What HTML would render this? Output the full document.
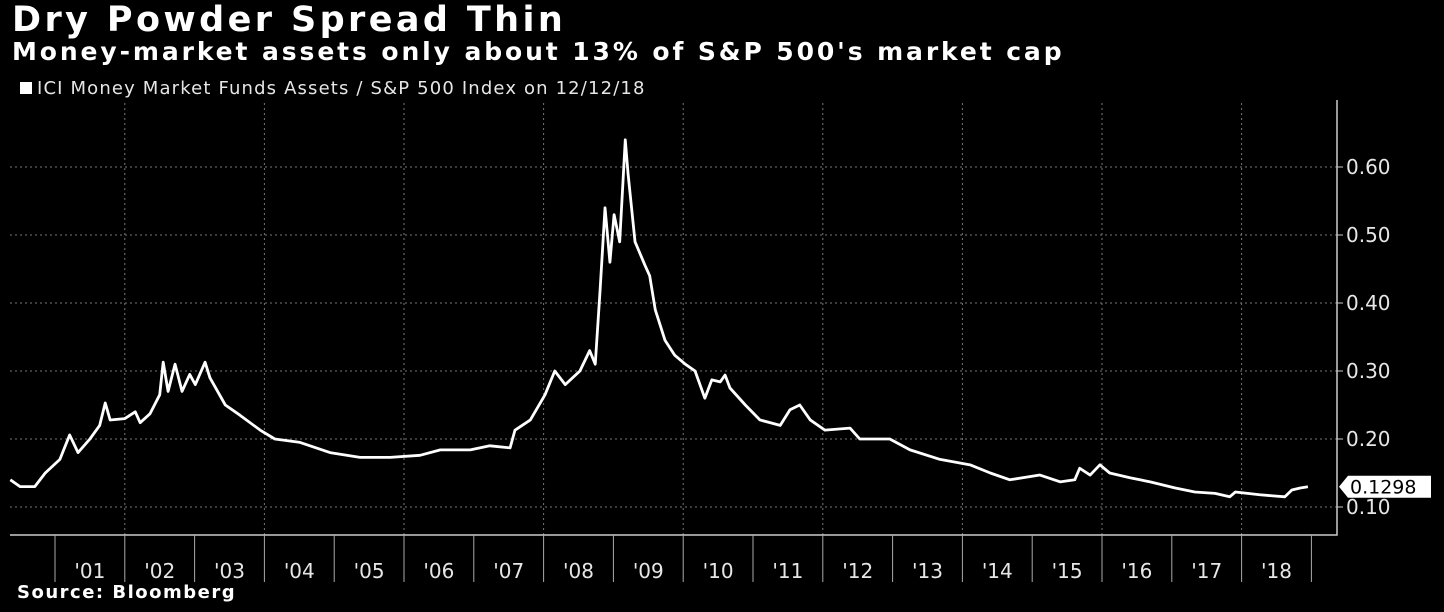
<!DOCTYPE html>
<html><head><meta charset="utf-8"><style>
body{margin:0;background:#000;width:1444px;height:612px;overflow:hidden;font-family:"DejaVu Sans","Liberation Sans",sans-serif;color:#fff}
.t{position:absolute;left:12px;top:0px;font-size:35px;font-weight:bold;letter-spacing:3.4px}
.s{position:absolute;left:12px;top:37px;font-size:25px;font-weight:bold;letter-spacing:2.9px}
.l{position:absolute;left:20px;top:78px;font-size:18px;color:#e6e6e6;letter-spacing:1.15px}
.l span{display:inline-block;width:12px;height:12px;background:#fff;margin-right:5px}
.src{position:absolute;left:17px;top:582px;font-size:18px;font-weight:bold;letter-spacing:1.5px}
svg{position:absolute;left:0;top:0}
</style></head><body>
<div class="t">Dry Powder Spread Thin</div>
<div class="s">Money-market assets only about 13% of S&amp;P 500's market cap</div>
<div class="l"><span></span>ICI Money Market Funds Assets / S&amp;P 500 Index on 12/12/18</div>
<div class="src">Source: Bloomberg</div>
<svg id="c" width="1444" height="612"></svg>
<script>
const dates=[2000.36,2000.50,2000.71,2000.86,2001.07,2001.21,2001.33,2001.50,2001.64,2001.72,2001.79,2002.00,2002.15,2002.22,2002.36,2002.50,2002.55,2002.62,2002.72,2002.82,2002.93,2003.01,2003.15,2003.22,2003.44,2003.65,2003.94,2004.15,2004.51,2004.94,2005.37,2005.80,2006.23,2006.52,2006.95,2007.23,2007.52,2007.59,2007.81,2008.02,2008.16,2008.31,2008.52,2008.66,2008.74,2008.81,2008.88,2008.95,2009.01,2009.09,2009.17,2009.21,2009.31,2009.45,2009.52,2009.60,2009.74,2009.88,2010.03,2010.17,2010.31,2010.41,2010.53,2010.60,2010.67,2010.89,2011.10,2011.39,2011.53,2011.67,2011.82,2012.03,2012.39,2012.53,2012.96,2013.25,2013.68,2014.11,2014.40,2014.68,2015.11,2015.40,2015.61,2015.68,2015.83,2015.97,2016.11,2016.40,2016.69,2017.05,2017.33,2017.62,2017.83,2017.91,2018.26,2018.62,2018.72,2018.84,2018.95];
const values=[0.14,0.13,0.13,0.15,0.17,0.206,0.18,0.2,0.22,0.253,0.228,0.23,0.24,0.224,0.237,0.265,0.313,0.27,0.31,0.27,0.295,0.28,0.313,0.29,0.25,0.235,0.213,0.2,0.195,0.18,0.173,0.173,0.176,0.184,0.184,0.19,0.187,0.213,0.228,0.265,0.3,0.28,0.3,0.33,0.31,0.42,0.54,0.46,0.53,0.49,0.64,0.59,0.49,0.456,0.44,0.39,0.345,0.323,0.31,0.3,0.26,0.287,0.284,0.294,0.275,0.25,0.228,0.22,0.243,0.25,0.228,0.213,0.216,0.2,0.2,0.184,0.17,0.162,0.15,0.14,0.147,0.137,0.14,0.157,0.147,0.162,0.15,0.143,0.137,0.128,0.122,0.12,0.115,0.122,0.118,0.115,0.125,0.128,0.1298];
const yTicks=[0.10,0.20,0.30,0.40,0.50,0.60];
const years=['01','02','03','04','05','06','07','08','09','10','11','12','13','14','15','16','17','18'];
const lastLabel='0.1298';
const X=t=>55+(t-2001)*69.8;
const Y=v=>507-(v-0.1)*680;
const svg=document.getElementById('c');const NS='http://www.w3.org/2000/svg';
function mk(tag,a){const e=document.createElementNS(NS,tag);for(const k in a)e.setAttribute(k,a[k]);svg.appendChild(e);return e;}
yTicks.forEach(v=>{
 const g=mk('line',{x1:10,x2:1337,y1:Y(v),y2:Y(v),stroke:'#777','stroke-dasharray':'2,3','stroke-width':1});
 
 
 const tk=mk('line',{x1:1337,x2:1343,y1:Y(v),y2:Y(v),stroke:'#ccc'});
 
 
 const t=mk('text',{x:1346,y:Y(v)+7,fill:'#e6e6e6','font-size':20,'font-family':'DejaVu Sans,sans-serif'});
 t.textContent=v.toFixed(2);
 
 
});
for(let yr=2002;yr<=2018;yr+=2){
 const g=mk('line',{x1:X(yr),x2:X(yr),y1:103,y2:535,stroke:'#777','stroke-dasharray':'2,3'});
 
 
}
const ax=mk('path',{d:'M10 535H1337V100',fill:'none',stroke:'#ccc','stroke-width':1.5});


years.forEach((y,i)=>{
 const x0=X(2001+i);
 const s=mk('line',{x1:x0,x2:x0,y1:535,y2:582,stroke:'#aaa'});
 
 
 const t=mk('text',{x:x0+34.9,y:578,fill:'#e6e6e6','font-size':20,'text-anchor':'middle','font-family':'DejaVu Sans,sans-serif'});
 t.textContent="'"+y;
 
 
});
const ex=X(2019);
const es=mk('line',{x1:ex,x2:ex,y1:535,y2:582,stroke:'#aaa'});


const line=mk('polyline',{points:dates.map((d,i)=>X(d)+','+Y(values[i])).join(' '),fill:'none',stroke:'#fff','stroke-width':2.8,'stroke-linejoin':'round'});


const ly=Y(values[values.length-1]);
const box=mk('path',{d:`M1339 ${ly} L1348 ${ly-11} H1431 V${ly+11} H1348 Z`,fill:'#fff'});


const lt=mk('text',{x:1350,y:ly+7,fill:'#000','font-size':19,'font-family':'DejaVu Sans,sans-serif'});
lt.textContent=lastLabel;


</script>
</body></html>
